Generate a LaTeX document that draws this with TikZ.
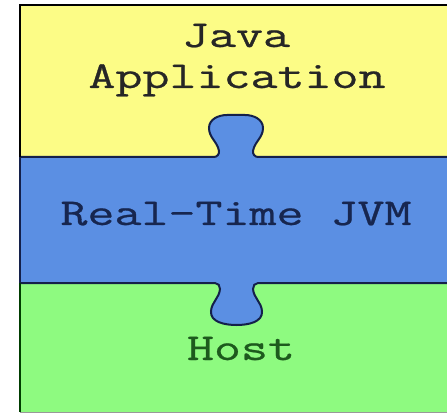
\documentclass[tikz,border=0pt]{standalone}
\usepackage{graphicx}
\usepackage{fontspec}
\newfontfamily\jmono{Latin Modern Mono}[FakeBold=0.6]
\definecolor{appyellow}{HTML}{FCFC86}
\definecolor{jvmblue}{HTML}{5B8FE3}
\definecolor{hostgreen}{HTML}{8EFA80}
\definecolor{edgedark}{HTML}{14204A}
\definecolor{txtjvm}{HTML}{17264F}
\definecolor{txthost}{HTML}{1D5A1D}
\tikzset{
  lbl/.style={inner sep=0pt, anchor=base, font=\jmono\fontsize{38}{38}\selectfont},
  edge/.style={draw=edgedark, line width=2pt},
}
\newcommand{\stretchtxt}[1]{\scalebox{1.38}[1]{#1}}
\newcommand{\topknob}{(214,157)
  to[out=0,in=-80] (219,151) to[out=100,in=-90] (209,128)
  to[out=90,in=180] (227,115) -- (245,115)
  to[out=0,in=90] (263,128) to[out=-90,in=80] (253,151)
  to[out=-100,in=180] (258,157)}
\newcommand{\botknob}{(258,283)
  to[out=180,in=95] (253,289) to[out=-85,in=95] (262,311)
  to[out=-85,in=0] (236.5,325) to[out=180,in=-95] (211,311)
  to[out=85,in=-95] (220,289) to[out=85,in=0] (215,283)}
\begin{document}
\begin{tikzpicture}[x=1pt,y=-1pt]
\useasboundingbox (0,0) rectangle (447,414);
\fill[white] (0,0) rectangle (447,414);
% layers
\fill[appyellow] (20,5) rectangle (447,157);
\fill[hostgreen] (20,283) rectangle (447,412);
\fill[jvmblue] (20,157) -- \topknob -- (447,157) -- (447,283) -- \botknob -- (20,283) -- cycle;
% outlines
\draw[edge] (20,157) -- \topknob -- (447,157);
\draw[edge] (447,283) -- \botknob -- (20,283);
\draw[black, line width=2.5pt] (447,5) -- (20,5) -- (20,157);
\draw[edgedark, line width=2.5pt] (20,157) -- (20,283);
\draw[black!60!green!60!black, line width=2.5pt] (20,283) -- (20,412);
\draw[gray!80, line width=1pt] (20,412) -- (447,412);
% texts
\node[lbl, text=black!85] (java) at (236,47) {\stretchtxt{Java}};
\node[lbl, text=black!85] (app) at (237,88) {\stretchtxt{Application}};
\node[lbl, text=txtjvm] (jvm) at (236,225) {\stretchtxt{Real-Time JVM}};
\node[lbl, text=txthost] (host) at (241,360) {\stretchtxt{Host}};
\end{tikzpicture}
\end{document}
